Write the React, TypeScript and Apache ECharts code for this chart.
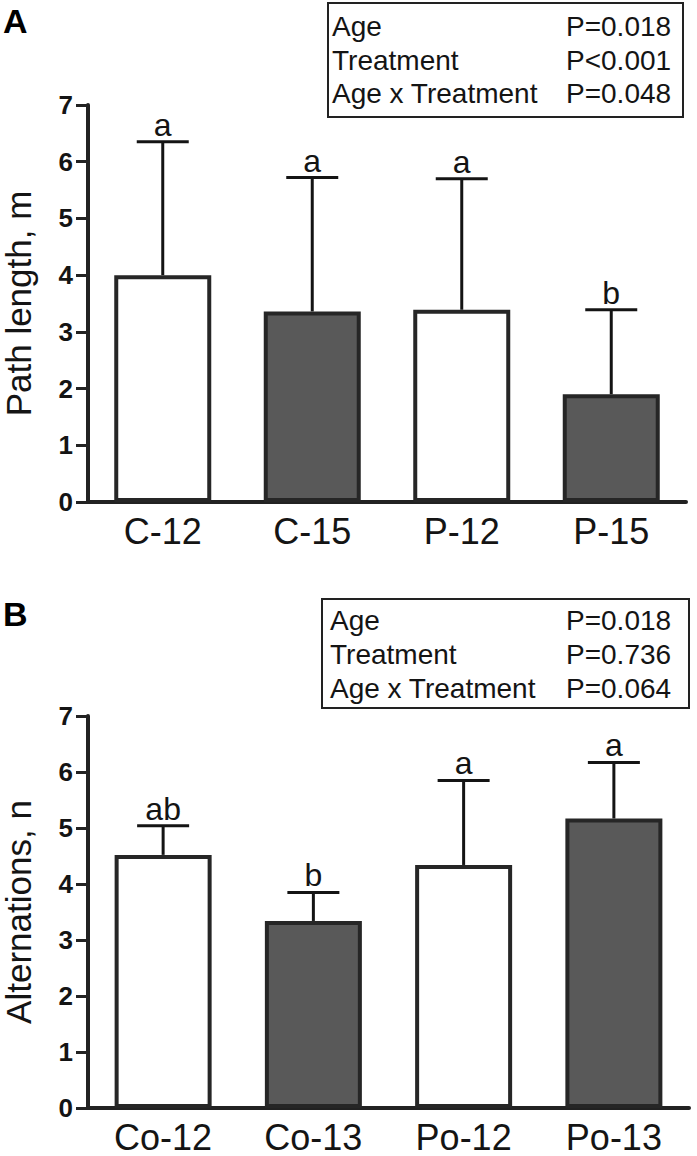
import React, { useEffect, useRef } from "react";
import * as echarts from "echarts";

const catsA = ["C-12", "C-15", "P-12", "P-15"];
const meansA = [4.0, 3.36, 3.39, 1.9];
const sdA = [2.35, 2.36, 2.31, 1.49];
const lettersA = ["a", "a", "a", "b"];

const catsB = ["Co-12", "Co-13", "Po-12", "Po-13"];
const meansB = [4.52, 3.34, 4.34, 5.17];
const sdB = [0.52, 0.51, 1.51, 1.0];
const lettersB = ["ab", "b", "a", "a"];

const yTicks = [0, 1, 2, 3, 4, 5, 6, 7];
const statsA = [
  ["Age", "P=0.018"],
  ["Treatment", "P<0.001"],
  ["Age x Treatment", "P=0.048"],
];
const statsB = [
  ["Age", "P=0.018"],
  ["Treatment", "P=0.736"],
  ["Age x Treatment", "P=0.064"],
];

const FONT = "'Liberation Sans', Arial, Helvetica, sans-serif";
const INK = "#141414";
const DARK = "#595959";

function errSeries(idx: number, means: number[], sds: number[], letters: string[]) {
  return {
    type: "custom",
    xAxisIndex: idx,
    yAxisIndex: idx,
    z: 5,
    encode: { x: 0, y: 1 },
    data: means.map((m, i) => [i, m, sds[i]]),
    renderItem: (params: any, api: any) => {
      const i = api.value(0);
      const m = api.value(1);
      const s = api.value(2);
      const p0 = api.coord([i, m]);
      const p1 = api.coord([i, m + s]);
      const half = 26;
      return {
        type: "group",
        children: [
          {
            type: "line",
            shape: { x1: p0[0], y1: p0[1], x2: p1[0], y2: p1[1] },
            style: { stroke: INK, lineWidth: 3 },
          },
          {
            type: "line",
            shape: { x1: p1[0] - half, y1: p1[1], x2: p1[0] + half, y2: p1[1] },
            style: { stroke: INK, lineWidth: 3 },
          },
          {
            type: "text",
            style: {
              text: letters[params.dataIndex],
              x: p1[0],
              y: p1[1] - 1,
              align: "center",
              verticalAlign: "bottom",
              fontSize: 32,
              fontFamily: FONT,
              fill: INK,
            },
          },
        ],
      };
    },
  };
}

function barSeries(idx: number, means: number[]) {
  return {
    type: "bar",
    xAxisIndex: idx,
    yAxisIndex: idx,
    barWidth: 97,
    z: 3,
    data: means.map((m, i) => ({
      value: m,
      itemStyle: { color: i % 2 === 0 ? "#ffffff" : DARK },
    })),
    itemStyle: { borderColor: "#262626", borderWidth: 4 },
  };
}

function statBox(x: number, y: number, w: number, h: number, rows: string[][], rowY: number[], labelX: number, pX: number) {
  const children: any[] = [
    {
      type: "rect",
      shape: { x, y, width: w, height: h },
      style: { fill: "#fff", stroke: "#222", lineWidth: 2 },
    },
  ];
  rows.forEach((r, i) => {
    children.push({
      type: "text",
      style: { text: r[0], x: labelX, y: rowY[i], verticalAlign: "middle", fontSize: 28, fontFamily: FONT, fill: INK },
    });
    children.push({
      type: "text",
      style: { text: r[1], x: pX, y: rowY[i], verticalAlign: "middle", fontSize: 28, fontFamily: FONT, fill: INK },
    });
  });
  return { type: "group", children };
}

function yAxis(idx: number, name: string) {
  return {
    type: "value",
    gridIndex: idx,
    min: yTicks[0],
    max: yTicks[yTicks.length - 1],
    interval: 1,
    name,
    nameLocation: "middle",
    nameGap: 52,
    nameRotate: 90,
    nameTextStyle: { fontSize: 35, fontFamily: FONT, color: INK },
    axisLine: { show: true, lineStyle: { color: "#222", width: 4 } },
    axisTick: { show: true, length: 12, lineStyle: { color: "#222", width: 3 } },
    splitLine: { show: false },
    axisLabel: { fontSize: 26, fontWeight: "bold", fontFamily: FONT, color: INK, margin: 15 },
  };
}

function xAxis(idx: number, cats: string[]) {
  return {
    type: "category",
    gridIndex: idx,
    data: cats,
    axisLine: { show: true, lineStyle: { color: "#222", width: 4 } },
    axisTick: { show: false },
    axisLabel: { fontSize: 36, fontFamily: FONT, color: INK, margin: 11 },
  };
}

export default function App() {
  const ref = useRef<HTMLDivElement>(null);
  useEffect(() => {
    if (!ref.current) return;
    const chart = echarts.init(ref.current, undefined, { renderer: "svg" });
    chart.setOption({
      animation: false,
      backgroundColor: "#ffffff",
      grid: [
        { left: 88, right: 11, top: 105, height: 397, outerBoundsMode: "none", containLabel: false },
        { left: 88, right: 8, top: 716, height: 392, outerBoundsMode: "none", containLabel: false },
      ],
      xAxis: [xAxis(0, catsA), xAxis(1, catsB)],
      yAxis: [yAxis(0, "Path length, m"), yAxis(1, "Alternations, n")],
      series: [
        barSeries(0, meansA),
        errSeries(0, meansA, sdA, lettersA),
        barSeries(1, meansB),
        errSeries(1, meansB, sdB, lettersB),
      ],
      graphic: [
        { type: "text", style: { text: "A", x: 3, y: 4, fontSize: 34, fontWeight: "bold", fontFamily: FONT, fill: "#000" } },
        { type: "text", style: { text: "B", x: 3, y: 597, fontSize: 34, fontWeight: "bold", fontFamily: FONT, fill: "#000" } },
        statBox(328, 3, 355, 114, statsA, [26, 60, 93], 332, 566),
        statBox(322, 599, 367, 109, statsB, [620, 654, 688], 330, 566),
      ],
    });
    return () => chart.dispose();
  }, []);
  return (
    <div
      ref={ref}
      style={{ position: "absolute", left: 0, top: 0, width: 697, height: 1156, background: "#fff" }}
    />
  );
}
